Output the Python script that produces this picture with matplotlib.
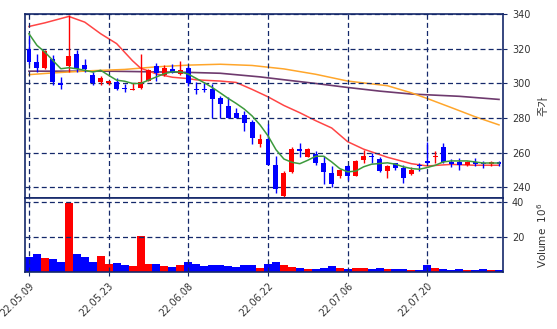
import matplotlib.pyplot as plt
import pandas as pd

# trading days (KRX, 2022-05-09 .. 2022-08-02, holidays 06-01 and 06-06 removed)
dates = pd.bdate_range("2022-05-09", "2022-08-02")
dates = dates[~dates.isin(pd.to_datetime(["2022-06-01", "2022-06-06"]))]

opens = [320, 312.5, 308.7, 314.2, 300.2, 310, 317.1, 310.3, 305, 300.6,
         300.2, 301, 297.3, 296.1, 297.3, 301.6, 310.1, 305, 308.5, 305.4,
         309.1, 296.9, 296.9, 296.9, 291.3, 287, 282.9, 281.6, 277.7, 265,
         268, 253, 235, 249, 262, 257.7, 259.2, 253.8, 248, 246.7,
         252, 246.7, 255.8, 258.3, 256.2, 249.6, 253.8, 251, 247.7, 252.5,
         255.2, 257.3, 263.5, 254.8, 254.8, 252.9, 254.8, 254.2, 253.3, 254.8]
highs = [328, 317, 319, 316.5, 303.9, 339.4, 319, 314.2, 306.4, 304.5,
         301.6, 303.1, 299.6, 300, 317, 308, 311.7, 310.3, 311.3, 312.6,
         309.7, 300.6, 300.6, 299.6, 292.4, 292.2, 285.6, 284.1, 278.6, 270.5,
         276.3, 257.8, 249.2, 263.5, 265.4, 262.5, 261.2, 258, 252.3, 250.4,
         252.9, 255.8, 261.5, 259.6, 257.7, 252.9, 254.2, 252.9, 251.5, 253.8,
         266.3, 261, 265.4, 256.2, 256.7, 255.2, 257, 255.2, 255.2, 255.2]
lows = [311, 306.5, 308, 299.2, 296.7, 306.4, 306.4, 306.4, 299, 299,
        299.2, 296.1, 294.8, 296, 296.7, 301.2, 301.6, 304.5, 305.8, 305,
        298.6, 293.8, 295.1, 279.8, 279.8, 279.8, 279.8, 272.6, 265, 263.5,
        253, 236.6, 234.5, 248.5, 257.7, 257.3, 252.9, 241.7, 240, 245.2,
        244.2, 246.7, 253.8, 253.8, 249, 245.2, 250, 242.7, 247.1, 249.6,
        253.3, 253.8, 254.2, 251.9, 250, 252.5, 252.5, 251, 252.5, 252]
closes = [312.3, 309, 318.4, 300.6, 299, 315.5, 308.3, 308, 300.2, 303.1,
          301.2, 296.7, 296.7, 296.9, 301, 307.4, 305.8, 308.9, 306.2, 307.4,
          300.2, 295.9, 296.1, 290.7, 288, 279.8, 280, 277.3, 268.6, 268,
          253, 239, 248.5, 262, 261.2, 262, 253.8, 249, 241.7, 250,
          246.7, 255.2, 258, 257.3, 249.6, 252.3, 251, 245.6, 250, 252,
          253.8, 258.3, 254.8, 253.3, 252.9, 254.8, 253.3, 253.3, 254.8, 253.3]
volumes = [8.8, 10.4, 8.1, 7.7, 5.8, 39.2, 10.4, 8.8, 5.8, 9.2,
           4.6, 5.2, 4.0, 3.5, 20.8, 4.6, 4.6, 3.5, 2.9, 4.0,
           5.8, 4.6, 3.5, 4.0, 4.0, 3.5, 2.9, 4.0, 4.0, 2.3,
           4.6, 5.7, 4.0, 2.9, 2.3, 1.7, 1.7, 2.3, 3.4, 2.3,
           1.7, 2.3, 2.3, 1.7, 2.3, 1.7, 1.7, 1.7, 1.1, 1.1,
           4.0, 2.3, 1.7, 1.1, 1.7, 1.1, 1.1, 1.7, 1.1, 1.1]

# moving averages
ma5 = [328.6, 321.9, 318, 313.2, 308.4, 309, 308.4, 307.5, 306.5, 307.5,
       304.6, 301.8, 301.2, 299.9, 299.9, 301.8, 303.7, 305.6, 306.6, 306.6,
       305.3, 302.8, 300.3, 297.6, 294.5, 291.3, 288.4, 285.2, 281.2, 276,
       269.7, 261.7, 256.3, 254.4, 253.6, 255.6, 257.9, 257.9, 254.6, 250.8,
       248.9, 249.3, 251.8, 253.3, 253.7, 254.1, 253.3, 251.8, 250.8, 250.4,
       251.4, 252.7, 254.6, 255.2, 255.2, 255.2, 254.6, 254, 254, 254]
ma20_idx = [0, 2, 5, 7, 9, 11, 13, 14, 16, 18, 20, 21, 24, 26, 28, 30, 32, 34,
            36, 38, 40, 42, 45, 48, 50, 53, 56, 59]
ma20 = [332.8, 334.9, 338.6, 335.3, 328.6, 322.9, 313, 308.8, 305.4, 303.5,
        302.7, 302, 301.3, 300.5, 296.5, 292.2, 287.2, 283, 278.4, 274.2,
        266.3, 262, 257.3, 253.6, 252.3, 253.2, 252.7, 252.7]
ma60_idx = [0, 3, 8, 12, 16, 20, 24, 28, 32, 36, 40, 45, 48, 50, 53, 56, 59]
ma60 = [305, 306, 307.3, 308, 309.5, 310.5, 311, 310.3, 308.3, 305.2,
        301.3, 298.6, 294.5, 291.2, 286, 280.7, 276]
ma120_idx = [0, 10, 20, 24, 29, 33, 36, 40, 44, 48, 54, 59]
ma120 = [307, 307, 306.3, 305.8, 303.7, 301.5, 299.9, 297.6, 295.5, 293.8,
         292.5, 290.7]

NAVY = "#14286a"
UP, DOWN = "#ff0000", "#0000ff"

plt.rcParams["font.family"] = ["DejaVu Sans", "Noto Sans CJK KR"]

fig = plt.figure(figsize=(5.57, 3.29), dpi=100)
ax = fig.add_axes([25 / 557, 1 - 198 / 329, 478 / 557, 184 / 329])
axv = fig.add_axes([25 / 557, 1 - 272 / 329, 478 / 557, 74 / 329], sharex=ax)

idx = list(range(len(dates)))
colors = [UP if c >= o else DOWN for o, c in zip(opens, closes)]

# candles
ax.vlines(idx, lows, highs, colors=colors, lw=1.0, zorder=3)
bodies = [max(abs(c - o), 0.6) for o, c in zip(opens, closes)]
bottoms = [min(o, c) for o, c in zip(opens, closes)]
ax.bar(idx, bodies, bottom=bottoms, width=0.62, color=colors, zorder=3)

# moving averages
ax.plot(ma120_idx, ma120, color="#6e3a6e", lw=1.2, zorder=2)
ax.plot(ma60_idx, ma60, color="#ffa62b", lw=1.1, zorder=2)
ax.plot(ma20_idx, ma20, color="#ff4545", lw=1.1, zorder=2)
ax.plot(idx, ma5, color="#3c9a3c", lw=1.1, zorder=4)

ax.set_xlim(-0.5, 59.5)
ax.set_ylim(233.8, 340)
ax.set_yticks(range(240, 341, 20))
ax.yaxis.tick_right()
ax.yaxis.set_label_position("right")
ax.set_ylabel("주가", fontsize=8, color="#333333", labelpad=6,
              family=["Noto Sans CJK KR", "DejaVu Sans"])
ax.tick_params(axis="x", length=0, labelbottom=False)
ax.tick_params(axis="y", labelsize=7, colors="#333333", color=NAVY, length=3)

# volume
axv.bar(idx, volumes, width=1.0, color=colors)
axv.set_ylim(0, 42.3)
axv.set_yticks([20, 40])
axv.yaxis.tick_right()
axv.yaxis.set_label_position("right")
axv.set_ylabel("Volume  $10^6$", fontsize=7.5, color="#333333", labelpad=8)
axv.set_xticks(idx[::10])
axv.set_xticklabels([d.strftime("%y.%m.%d") for d in dates[::10]],
                    rotation=45, ha="right", rotation_mode="anchor")
axv.tick_params(axis="x", labelsize=7, colors="#333333", color=NAVY, length=3)
axv.tick_params(axis="y", labelsize=7, colors="#333333", color=NAVY, length=3)

for a in (ax, axv):
    a.set_axisbelow(False)
    a.grid(True, ls=(0, (4, 2.5)), color=NAVY, lw=0.9, zorder=1)
    for s in a.spines.values():
        s.set_color(NAVY)
        s.set_linewidth(1.2)

fig.savefig("out.png", dpi=100)
